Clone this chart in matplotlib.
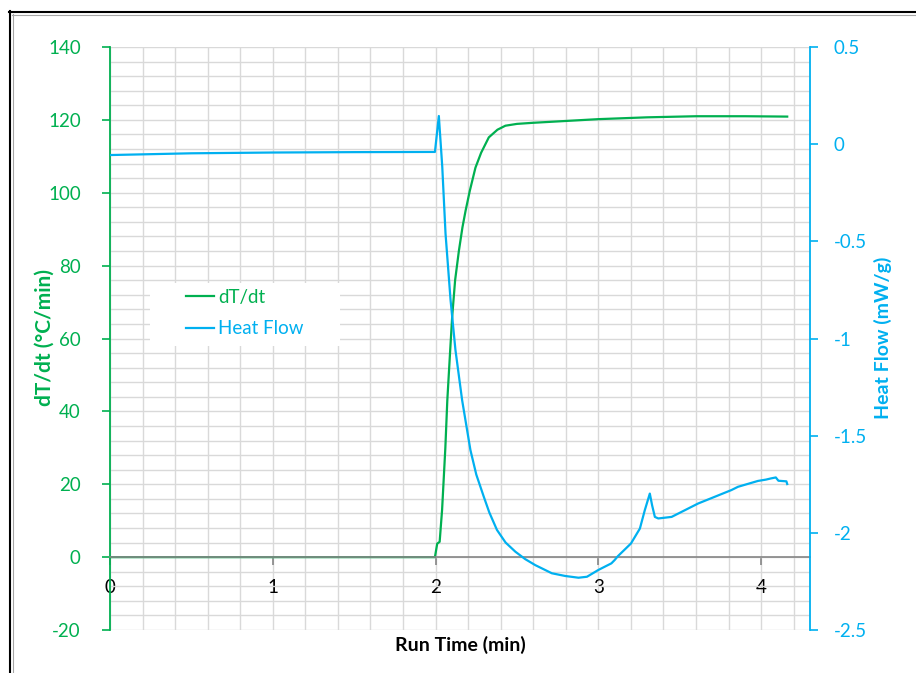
import matplotlib.pyplot as plt
import numpy as np
from matplotlib.lines import Line2D
from matplotlib.patches import Rectangle

plt.rcParams['font.family'] = ['Lato', 'DejaVu Sans']

GREEN = '#00B050'
BLUE = '#00B0F0'

# dT/dt trace (left axis, °C/min)
dtdt_time = [0, 0.25, 0.5, 0.75, 1.0, 1.25, 1.5, 1.75, 1.996, 2.01, 2.025,
             2.04, 2.06, 2.072, 2.09, 2.102, 2.12, 2.143, 2.165, 2.184, 2.21,
             2.245, 2.28, 2.327, 2.38, 2.429, 2.5, 2.6, 2.8, 3.0, 3.3, 3.6,
             3.9, 4.16]
dtdt = [0, 0, 0, 0, 0, 0, 0, 0, 0, 3.7, 4.2,
        13, 30, 43, 57, 66, 76, 84, 90.5, 95, 100.5,
        106.9, 111, 115.2, 117.3, 118.4, 118.9, 119.2, 119.7, 120.2, 120.7, 121,
        121, 120.9]

# Heat flow trace (right axis, mW/g)
hf_time = [0, 0.5, 1.0, 1.5, 1.996, 2.02, 2.041, 2.061, 2.092, 2.122, 2.163,
           2.214, 2.25, 2.296, 2.33, 2.377, 2.43, 2.49, 2.55, 2.612, 2.714,
           2.796, 2.878, 2.93, 3.0, 3.08, 3.10, 3.12, 3.2, 3.255, 3.285, 3.316,
           3.33, 3.347, 3.368, 3.45, 3.613, 3.817, 3.858, 3.98, 4.03, 4.06,
           4.09, 4.106, 4.155, 4.16]
heat_flow = [-0.056, -0.047, -0.043, -0.041, -0.04, 0.145, -0.116, -0.459,
             -0.802, -1.059, -1.317, -1.574, -1.70, -1.814, -1.895, -1.985,
             -2.05, -2.097, -2.135, -2.166, -2.208, -2.222, -2.231, -2.226,
             -2.191, -2.157, -2.14, -2.12, -2.055, -1.978, -1.884, -1.798,
             -1.858, -1.918, -1.926, -1.918, -1.849, -1.78, -1.763, -1.733,
             -1.726, -1.72, -1.715, -1.732, -1.735, -1.749]

left_ticks = list(range(-20, 141, 20))
right_ticks = [-2.5, -2.0, -1.5, -1.0, -0.5, 0.0, 0.5]
right_labels = ['-2.5', '-2', '-1.5', '-1', '-0.5', '0', '0.5']

W, H = 916, 673
fig = plt.figure(figsize=(W / 100, H / 100), dpi=100)
ax = fig.add_axes([110 / W, 1 - 630 / H, 700 / W, 583 / H])
ax2 = ax.twinx()

l1, = ax.plot(dtdt_time, dtdt, color=GREEN, lw=1.6, label='dT/dt')
l2, = ax2.plot(hf_time, heat_flow, color=BLUE, lw=1.6, label='Heat Flow')

ax.set_xlim(0, 4.3)
ax.set_ylim(-20, 140)
ax2.set_ylim(-2.5, 0.5)

# grid: majors plus minors every 0.2 min / 4 units
ax.set_xticks([0, 1, 2, 3, 4])
ax.set_xticks(np.arange(0, 4.3, 0.2), minor=True)
ax.set_yticks(left_ticks)
ax.set_yticklabels([str(v) for v in left_ticks])
ax.set_yticks(np.arange(-20, 141, 4), minor=True)
ax.grid(which='both', color='#D9D9D9', lw=1)
ax.set_axisbelow(True)

for s in ['top', 'right']:
    ax.spines[s].set_visible(False)
ax.spines['bottom'].set_position(('data', 0))
ax.spines['bottom'].set_color('#868686')
ax.spines['bottom'].set_linewidth(1.2)
ax.spines['left'].set_color(GREEN)
ax.spines['left'].set_linewidth(1.3)

ax.tick_params(axis='y', which='major', colors=GREEN, labelsize=13.5,
               length=6, width=1.2, pad=15)
ax.tick_params(axis='x', which='major', color='#868686', labelcolor='black',
               labelsize=13.5, length=6, width=1.2, pad=10)
ax.tick_params(which='minor', length=0)

for s in ['top', 'left', 'bottom']:
    ax2.spines[s].set_visible(False)
ax2.spines['right'].set_color(BLUE)
ax2.spines['right'].set_linewidth(1.3)
ax2.set_yticks(right_ticks)
ax2.set_yticklabels(right_labels)
ax2.tick_params(axis='y', colors=BLUE, labelsize=13.5, length=6, width=1.2,
                pad=11)

fig.text(45 / W, 1 - 338 / H, 'dT/dt (°C/min)', color=GREEN, fontsize=15,
         fontweight='bold', rotation=90, ha='center', va='center')
fig.text(883 / W, 1 - 338 / H, 'Heat Flow (mW/g)', color=BLUE, fontsize=14,
         fontweight='bold', rotation=90, ha='center', va='center')
fig.text(460 / W, 1 - 645 / H, 'Run Time (min)', color='black', fontsize=14,
         fontweight='bold', ha='center', va='center')

# legend sits on a white patch that hides the grid
ax2.add_patch(Rectangle((150 / W, 1 - 346 / H), 190 / W, 63 / H,
                        transform=fig.transFigure, facecolor='white',
                        edgecolor='none', zorder=4, clip_on=False))
leg = ax2.legend([l1, l2], ['dT/dt', 'Heat Flow'], loc='upper left',
                 bbox_to_anchor=(186 / W, 1 - 289 / H),
                 bbox_transform=fig.transFigure, fontsize=13.5, frameon=False,
                 borderpad=0, handlelength=1.5, handletextpad=0.2,
                 labelspacing=0.75, borderaxespad=0)
leg.set_zorder(6)
for txt, c in zip(leg.get_texts(), [GREEN, BLUE]):
    txt.set_color(c)

# chart-area border
fig.add_artist(Line2D([9.5 / W, 9.5 / W], [0, 1 - 11 / H], color='black',
                      lw=1.5, transform=fig.transFigure))
fig.add_artist(Line2D([9 / W, 1], [1 - 11.5 / H, 1 - 11.5 / H], color='black',
                      lw=1.5, transform=fig.transFigure))
fig.add_artist(Line2D([12.5 / W, 12.5 / W], [0, 1 - 14 / H], color='#A6A6A6',
                      lw=0.8, transform=fig.transFigure))
fig.add_artist(Line2D([12 / W, 1], [1 - 14.5 / H, 1 - 14.5 / H],
                      color='#A6A6A6', lw=0.8, transform=fig.transFigure))

fig.savefig('out.png', dpi=100)
